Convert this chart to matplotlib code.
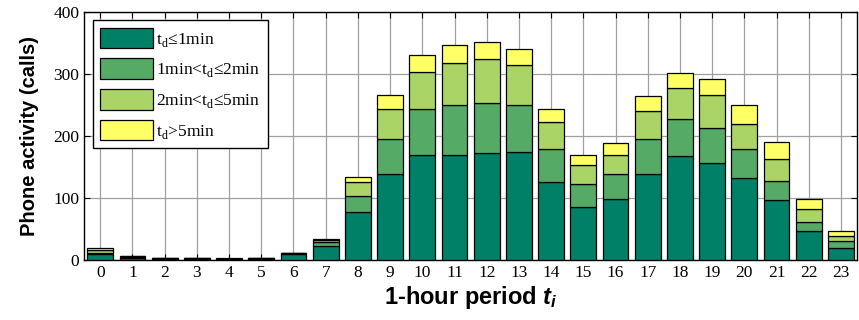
import matplotlib
matplotlib.use("Agg")
import matplotlib.pyplot as plt
import numpy as np

hours = list(range(24))

# calls per hour, split by call duration t_d
le_1min = [9, 3, 2, 1.5, 1, 1.5, 9, 23, 78, 139, 170, 170, 173, 175, 126, 86, 98, 138, 167, 156, 132, 96, 46, 20]
min1_2 = [3, 2, 1, 1, 0.7, 1, 1.5, 6, 26, 56, 74, 80, 80, 75, 53, 37, 40, 57, 60, 57, 47, 32, 15, 10]
min2_5 = [4, 1, 0.5, 0.5, 0.5, 0.5, 1, 3, 22, 49, 60, 68, 71, 64, 44, 31, 32, 46, 51, 53, 40, 35, 21, 8]
gt_5min = [4, 1, 0.5, 0.5, 0.3, 0.5, 0.5, 2, 8, 22, 26, 28, 28, 26, 20, 16, 19, 23, 24, 26, 31, 28, 16, 8]

labels = [r"t$_\mathrm{d}$≤1min", r"1min<t$_\mathrm{d}$≤2min",
          r"2min<t$_\mathrm{d}$≤5min", r"t$_\mathrm{d}$>5min"]
colors = ["#008066", "#55aa66", "#aad466", "#ffff66"]

plt.rcParams["mathtext.fontset"] = "custom"
plt.rcParams["mathtext.rm"] = "Liberation Serif"
plt.rcParams["mathtext.bfit"] = "Liberation Sans:italic:bold"
serif = "Liberation Serif"

fig = plt.figure(figsize=(8.59, 3.2), dpi=100)
ax = fig.add_axes([0.098, 0.1875, 0.8997, 0.775])

x = np.array(hours)
bottom = np.zeros(len(hours))
for vals, lab, col in zip([le_1min, min1_2, min2_5, gt_5min], labels, colors):
    vals = np.array(vals, dtype=float)
    ax.bar(x, vals, 0.8, bottom=bottom, color=col, edgecolor="black",
           linewidth=0.9, label=lab, zorder=3)
    bottom += vals

ax.set_xlim(-0.5, 23.5)
ax.set_ylim(0, 400)
ax.set_xticks(hours)
ax.set_yticks([0, 100, 200, 300, 400])
ax.grid(True, color="#a0a0a0", linewidth=0.9, zorder=0)
ax.set_axisbelow(True)
ax.tick_params(direction="in", top=True, right=True, length=4, labelsize=12.5)
for t in ax.get_xticklabels() + ax.get_yticklabels():
    t.set_fontfamily(serif)
for s in ax.spines.values():
    s.set_linewidth(1.0)

ax.set_ylabel("Phone activity (calls)", fontsize=14.5, fontweight="bold",
              fontfamily="Liberation Sans", labelpad=10)
ax.set_xlabel(r"1-hour period $\mathbfit{t_i}$", fontsize=17, fontweight="bold",
              fontfamily="Liberation Sans", labelpad=2)

leg = ax.legend(loc="upper left", bbox_to_anchor=(0.011, 0.968), borderaxespad=0,
                fancybox=False, framealpha=1, edgecolor="black",
                prop={"family": serif, "size": 12.5}, handlelength=3.0,
                handleheight=1.45, labelspacing=0.55, handletextpad=0.2,
                borderpad=0.45)
leg.get_frame().set_linewidth(1.0)

fig.savefig("out.png", dpi=100)
